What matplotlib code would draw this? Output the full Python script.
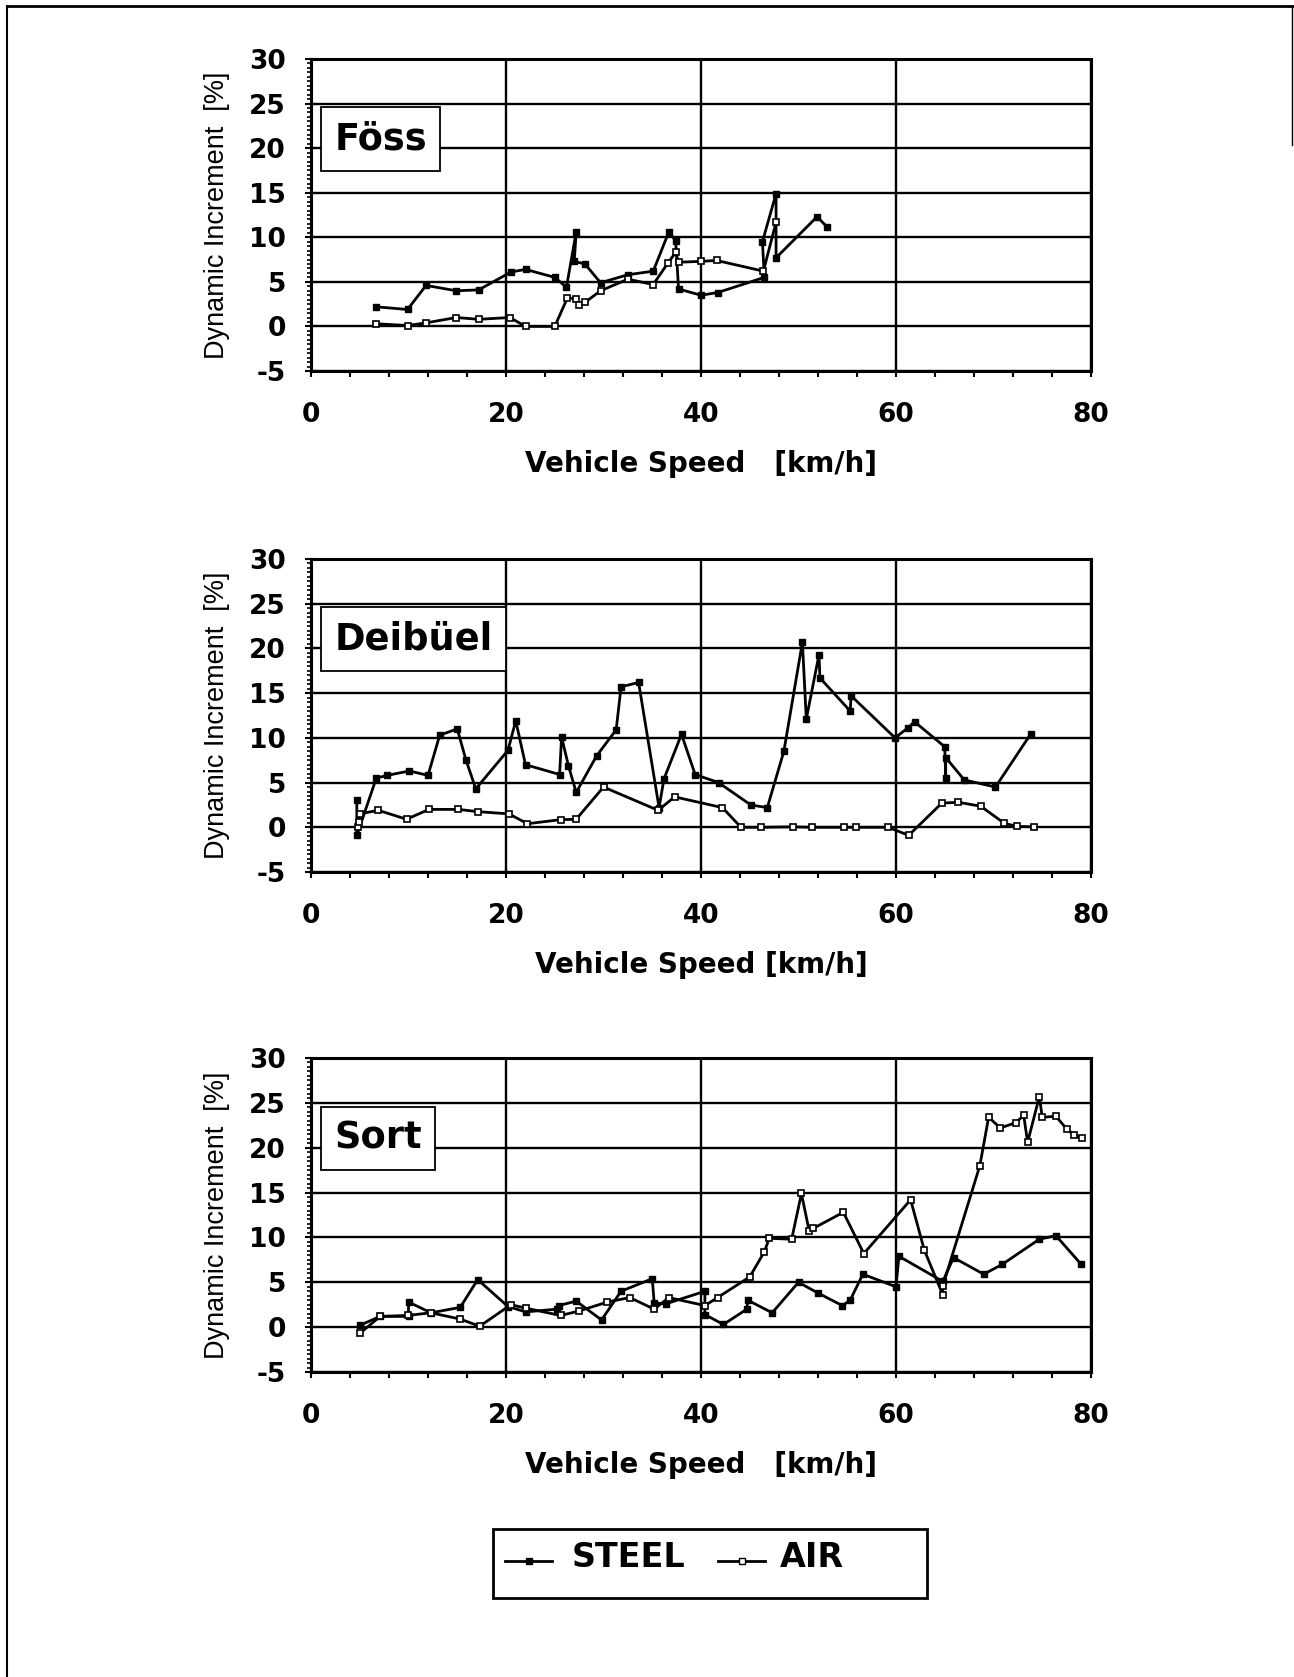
import matplotlib
matplotlib.use("Agg")
import matplotlib.pyplot as plt
from matplotlib.lines import Line2D
from matplotlib.patches import Rectangle
from matplotlib.ticker import MultipleLocator

plt.rcParams["font.family"] = ["Liberation Sans", "DejaVu Sans"]
plt.rcParams["axes.unicode_minus"] = False

# Föss
foss_steel_x = [6.7, 9.9, 11.8, 14.9, 17.2, 20.5, 22.0, 25.0, 26.2, 27.2, 27.0, 28.1, 29.7,
                32.5, 35.1, 36.7, 37.4, 37.7, 40.0, 41.7, 46.5, 46.3, 47.7, 47.7, 51.9, 52.9]
foss_steel_y = [2.2, 1.9, 4.6, 4.0, 4.1, 6.1, 6.4, 5.5, 4.4, 10.6, 7.3, 7.0, 4.9,
                5.8, 6.2, 10.6, 9.6, 4.2, 3.5, 3.8, 5.5, 9.5, 14.9, 7.7, 12.3, 11.2]
foss_air_x = [6.7, 9.9, 11.8, 14.9, 17.2, 20.4, 22.0, 25.0, 26.3, 27.2, 27.5, 28.1, 29.7,
              32.5, 35.1, 36.6, 37.4, 37.7, 40.0, 41.6, 46.4, 47.7]
foss_air_y = [0.3, 0.1, 0.4, 1.0, 0.8, 1.0, 0.0, 0.0, 3.2, 3.1, 2.4, 2.7, 4.0,
              5.3, 4.7, 7.1, 8.3, 7.2, 7.3, 7.4, 6.2, 11.7]

# Deibüel
deib_steel_x = [4.7, 4.7, 6.7, 7.8, 10.1, 12.0, 13.2, 15.0, 15.9, 16.9, 20.2, 21.0, 22.0,
                25.5, 25.7, 26.4, 27.2, 29.3, 31.3, 31.8, 33.6, 35.7, 36.2, 38.0, 39.4,
                41.8, 45.1, 46.8, 48.5, 50.4, 50.8, 52.1, 52.2, 55.3, 55.4, 59.9, 61.2,
                61.9, 65.0, 65.1, 65.1, 67.0, 70.2, 73.8]
deib_steel_y = [3.1, -0.9, 5.5, 5.8, 6.3, 5.8, 10.3, 11.0, 7.5, 4.3, 8.6, 11.9, 7.0,
                5.9, 10.1, 6.9, 3.9, 8.0, 10.9, 15.7, 16.2, 2.2, 5.4, 10.4, 5.9,
                5.0, 2.5, 2.2, 8.5, 20.7, 12.1, 19.3, 16.7, 13.0, 14.7, 10.0, 11.1,
                11.8, 9.0, 5.5, 7.8, 5.3, 4.5, 10.4]
deib_air_x = [4.8, 4.9, 5.0, 6.9, 9.8, 12.1, 15.1, 17.1, 20.3, 22.2, 25.6, 27.2, 30.0,
              35.6, 37.3, 42.2, 44.1, 46.2, 49.4, 51.4, 54.7, 55.9, 59.2, 61.3, 64.7,
              66.4, 68.7, 71.1, 72.4, 74.2]
deib_air_y = [0.0, 0.6, 1.5, 1.9, 0.9, 2.0, 2.0, 1.75, 1.5, 0.4, 0.85, 0.9, 4.5,
              1.9, 3.4, 2.2, 0.0, 0.0, 0.05, 0.0, 0.0, 0.0, 0.0, -0.9, 2.7,
              2.8, 2.35, 0.45, 0.1, 0.05]

# Sort
sort_steel_x = [5.0, 7.1, 10.0, 10.0, 12.3, 15.3, 17.1, 20.2, 22.0, 25.2, 25.4, 27.2, 29.8,
                31.8, 35.0, 35.2, 36.4, 40.4, 40.4, 42.3, 44.7, 44.8, 47.3, 50.0, 52.0,
                54.5, 55.3, 56.6, 60.0, 60.3, 64.8, 65.9, 69.0, 70.9, 74.7, 76.4, 79.0]
sort_steel_y = [0.2, 1.2, 1.2, 2.8, 1.6, 2.2, 5.3, 2.3, 1.7, 2.0, 2.4, 2.9, 0.8,
                4.0, 5.4, 2.7, 2.6, 4.0, 1.4, 0.3, 2.0, 3.0, 1.6, 5.0, 3.8,
                2.4, 3.0, 5.9, 4.5, 7.9, 5.1, 7.75, 5.9, 7.0, 9.8, 10.2, 7.0]
sort_air_x = [5.0, 7.1, 9.9, 12.3, 15.3, 17.3, 20.5, 22.1, 25.6, 27.5, 30.4, 32.7, 35.2,
              36.7, 40.4, 41.7, 45.0, 46.5, 47.0, 49.3, 50.3, 51.1, 51.5, 54.6, 56.7,
              61.5, 62.9, 64.8, 64.8, 68.6, 69.5, 70.7, 72.3, 73.1, 73.5, 74.7, 75.0,
              76.4, 77.5, 78.3, 79.1]
sort_air_y = [-0.7, 1.2, 1.3, 1.6, 0.9, 0.1, 2.5, 2.1, 1.3, 1.8, 2.8, 3.3, 2.0,
              3.3, 2.4, 3.3, 5.6, 8.4, 9.9, 9.8, 14.9, 10.7, 11.0, 12.8, 8.2,
              14.2, 8.6, 3.6, 4.6, 18.0, 23.4, 22.2, 22.8, 23.6, 20.6, 25.7, 23.4,
              23.5, 22.1, 21.4, 21.1]

W, H = 1294, 1677
fig = plt.figure(figsize=(W / 100, H / 100), dpi=100)

panels = [
    ("Föss", 59, 371, foss_steel_x, foss_steel_y, foss_air_x, foss_air_y,
     "Vehicle Speed   [km/h]"),
    ("Deibüel", 559, 872, deib_steel_x, deib_steel_y, deib_air_x, deib_air_y,
     "Vehicle Speed [km/h]"),
    ("Sort", 1058, 1372, sort_steel_x, sort_steel_y, sort_air_x, sort_air_y,
     "Vehicle Speed   [km/h]"),
]

bold = dict(family="DejaVu Sans", weight="bold")

left, right = 311, 1091
for name, top, bottom, sx, sy, ax_x, ax_y, xlab in panels:
    ax = fig.add_axes([left / W, 1 - bottom / H, (right - left) / W, (bottom - top) / H])
    ax.set_xlim(0, 80)
    ax.set_ylim(-5, 30)
    ax.xaxis.set_major_locator(MultipleLocator(20))
    ax.xaxis.set_minor_locator(MultipleLocator(4))
    ax.yaxis.set_major_locator(MultipleLocator(5))
    ax.yaxis.set_minor_locator(MultipleLocator(0.5))
    ax.grid(True, which="major", color="black", lw=1.7)
    ax.set_axisbelow(True)
    for sp in ax.spines.values():
        sp.set_linewidth(2.2)
    ax.tick_params(axis="x", which="major", direction="inout", length=8, width=1.5, pad=18)
    ax.tick_params(axis="x", which="minor", direction="out", length=4, width=1.5)
    ax.tick_params(axis="y", which="major", direction="inout", length=8, width=1.5, pad=14)
    ax.tick_params(axis="y", which="minor", direction="out", length=3, width=1.2)
    for lab in ax.get_xticklabels() + ax.get_yticklabels():
        lab.set_fontproperties(dict(bold, size=19))

    ax.plot(sx, sy, color="black", lw=2, marker="s", ms=5, mfc="black", mec="black")
    ax.plot(ax_x, ax_y, color="black", lw=2, marker="s", ms=5, mfc="white", mec="black",
            mew=1.2)

    ax.text(0.030, 0.803, name, transform=ax.transAxes, ha="left", va="top",
            fontsize=26.5, zorder=5, **bold,
            bbox=dict(boxstyle="square,pad=0.36", fc="white", ec="black", lw=1.3))

    ax.text(-0.1205, 0.5, "Dynamic Increment  [%]", transform=ax.transAxes,
            rotation=90, ha="center", va="center", fontsize=19.5)
    fig.text((left + right) / 2 / W, 1 - (bottom + 93) / H, xlab,
             ha="center", va="center", fontsize=20, **bold)

# legend box drawn by hand (Excel-style fixed width)
fx = lambda px: px / W
fy = lambda py: 1 - py / H
fig.add_artist(Rectangle((fx(493), fy(1598)), (927 - 493) / W, (1598 - 1529) / H,
                         transform=fig.transFigure, fill=False, ec="black", lw=2))
legend_items = [("STEEL", "black", 505, 552, 572), ("AIR", "white", 718, 765, 780)]
for text, face, x0, x1, tx in legend_items:
    fig.add_artist(Line2D([fx(x0), fx(x1)], [fy(1561), fy(1561)], transform=fig.transFigure,
                          color="black", lw=2))
    fig.add_artist(Line2D([fx((x0 + x1) / 2)], [fy(1561)], transform=fig.transFigure,
                          marker="s", ms=4, mfc=face, mec="black", mew=1, color="black"))
    fig.text(fx(tx), fy(1567), text, ha="left", va="baseline", fontsize=24, **bold)

# page frame
fig.add_artist(Line2D([7 / W, 7 / W], [0, 1 - 6 / H], transform=fig.transFigure,
                      color="black", lw=1.5))
fig.add_artist(Line2D([7 / W, 1], [1 - 6 / H, 1 - 6 / H], transform=fig.transFigure,
                      color="black", lw=2))
fig.add_artist(Line2D([1292 / W, 1292 / W], [1 - 6 / H, 1 - 145 / H],
                      transform=fig.transFigure, color="black", lw=1))

fig.savefig("out.png", dpi=100, facecolor="white")
